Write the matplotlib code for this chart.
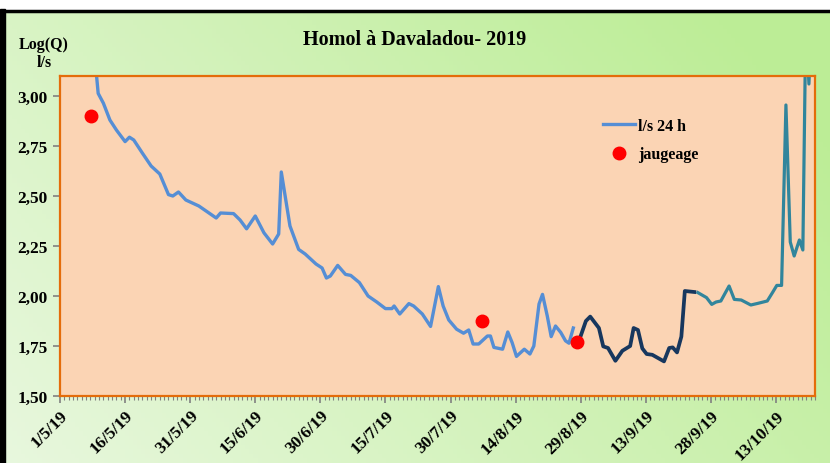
import datetime as dt

import matplotlib
matplotlib.use("Agg")
import matplotlib.dates as mdates
import matplotlib.pyplot as plt
import numpy as np
from matplotlib.lines import Line2D
from matplotlib.patches import Rectangle

# days after 1 May 2019 and log10(Q) values
start = dt.datetime(2019, 5, 1)

blue_days = [8.0, 8.8, 10, 11.5, 13, 15, 16, 17, 19, 21, 23, 25, 26, 27.3, 29, 32, 34, 36,
             37, 40, 41.5, 43, 45, 47, 49, 50.4, 51, 53, 55, 56.5, 59, 60.4, 61.4, 62.3, 64,
             65.8, 67, 69, 71, 73, 75, 76.5, 77, 78.3, 80.4, 81.5, 83.5, 85.4, 87.2, 88.3,
             89.6, 91.4, 93, 94.2, 95.2, 96.5, 98.5, 99.2, 100, 102, 103.2, 104.2, 105.2,
             107, 108.3, 109.2, 110.4, 111.2, 112.3, 113.2, 114.2, 115.4, 116.5, 117.3, 118.3]
blue_vals = [3.20, 3.013, 2.964, 2.88, 2.83, 2.772, 2.794, 2.78, 2.714, 2.65, 2.61, 2.507,
             2.50, 2.52, 2.48, 2.45, 2.42, 2.39, 2.415, 2.412, 2.38, 2.336, 2.40, 2.316, 2.26,
             2.31, 2.62, 2.35, 2.233, 2.21, 2.16, 2.14, 2.09, 2.10, 2.153, 2.108, 2.103, 2.067,
             2.0, 1.97, 1.937, 1.937, 1.95, 1.91, 1.962, 1.95, 1.91, 1.848, 2.047, 1.95, 1.88,
             1.834, 1.814, 1.83, 1.76, 1.76, 1.80, 1.80, 1.743, 1.734, 1.82, 1.767, 1.698,
             1.734, 1.71, 1.75, 1.96, 2.008, 1.90, 1.797, 1.85, 1.818, 1.776, 1.764, 1.84]

navy_days = [120, 121.2, 122.2, 124.2, 125.2, 126.3, 128, 129.6, 131.4, 132.2, 133.2, 134.2,
             135.2, 136.5, 139.2, 140.4, 141.2, 142.2, 143.2, 144, 146.2]
navy_vals = [1.80, 1.875, 1.897, 1.84, 1.748, 1.74, 1.676, 1.726, 1.75, 1.84, 1.83, 1.738,
             1.71, 1.706, 1.673, 1.74, 1.743, 1.718, 1.797, 2.025, 2.02]

teal_days = [147, 149, 150.2, 151.2, 152.3, 154.2, 155.4, 157, 159.2, 160.8, 163, 164.2,
             165.2, 166.3, 167.3, 168.3, 169.2, 170.4, 171.2, 171.9, 172.6, 173.3]
teal_vals = [2.017, 1.992, 1.958, 1.97, 1.975, 2.05, 1.983, 1.98, 1.955, 1.963, 1.975, 2.017,
             2.053, 2.053, 2.955, 2.27, 2.20, 2.28, 2.23, 3.4, 3.06, 3.4]

jaug_days = [7.1, 97.3, 119.2]
jaug_vals = [2.902, 1.875, 1.77]

y_ticks = [1.50, 1.75, 2.00, 2.25, 2.50, 2.75, 3.00]


def to_dates(days):
    return [start + dt.timedelta(days=d) for d in days]


serif = "Liberation Serif"
plt.rcParams["font.family"] = serif

fig = plt.figure(figsize=(8.3, 4.64), dpi=100)

# green gradient background
bg = fig.add_axes([0, 0, 1, 1 - 12 / 464])
bg.set_axis_off()
c0 = np.array([0.91, 0.97, 0.87])
c1 = np.array([0.74, 0.93, 0.59])
gx = np.linspace(0, 1, 200)[None, :]
gy = np.linspace(0, 1, 100)[:, None]
t = np.clip(0.75 * gx + 0.35 * gy, 0, 1)
grad = c0 + (c1 - c0) * t[..., None]
bg.imshow(grad, aspect="auto", origin="lower", extent=[0, 1, 0, 1])
fig.add_artist(Rectangle((0, 0), 5 / 830, 1 - 10 / 464, transform=fig.transFigure,
                         color="black", zorder=5))
fig.add_artist(Line2D([0, 1], [1 - 11.5 / 464] * 2, transform=fig.transFigure,
                      color="black", lw=2.5, zorder=5))

ax = fig.add_axes([60 / 830, 1 - 397 / 464, 755 / 830, 320 / 464])
ax.set_facecolor("#FBD4B4")
for s in ax.spines.values():
    s.set_color("#E46C0A")
    s.set_linewidth(1.6)

ax.plot(to_dates(blue_days), blue_vals, color="#558ED5", lw=2.4, label="l/s 24 h",
        solid_joinstyle="round")
ax.plot(to_dates(navy_days), navy_vals, color="#17375E", lw=2.7, solid_joinstyle="round")
ax.plot(to_dates(teal_days), teal_vals, color="#31859C", lw=2.3, solid_joinstyle="round")
ax.plot(to_dates(jaug_days), jaug_vals, "o", color="#FF0000", ms=9, ls="none",
        label="jaugeage", zorder=5)

ax.set_xlim(start, start + dt.timedelta(days=174))
ax.set_ylim(1.5, 3.1)

major = [start + dt.timedelta(days=15 * i) for i in range(12)]
ax.set_xticks(major)
ax.set_xticklabels([f"{d.day}/{d.month}/19" for d in major], rotation=45, ha="right",
                   rotation_mode="anchor", fontweight="bold", fontsize=12.5)
ax.xaxis.set_minor_locator(mdates.DayLocator())
ax.set_yticks(y_ticks)
ax.set_yticklabels([f"{v:.2f}".replace(".", ",") for v in y_ticks], fontweight="bold",
                   fontsize=12.5)
ax.tick_params(axis="both", which="major", color="#808080", length=5, width=1.2)
ax.tick_params(axis="x", which="minor", color="#808080", length=3, width=0.8)
ax.tick_params(axis="x", pad=3)
ax.tick_params(axis="y", pad=4)

ax.legend(loc="upper left", bbox_to_anchor=(0.70, 0.915), frameon=False,
          handlelength=2.0, handletextpad=0.2, labelspacing=0.8,
          prop={"family": serif, "weight": "bold", "size": 11.5})

fig.text(415 / 830, 1 - 40 / 464, "Homol à Davaladou- 2019", ha="center", va="center",
         fontsize=14.5, fontweight="bold")
fig.text(44 / 830, 1 - 45 / 464, "Log(Q)", ha="center", va="center", fontsize=11.5,
         fontweight="bold")
fig.text(44 / 830, 1 - 63 / 464, "l/s", ha="center", va="center", fontsize=11.5,
         fontweight="bold")

fig.savefig("out.png", dpi=100)
